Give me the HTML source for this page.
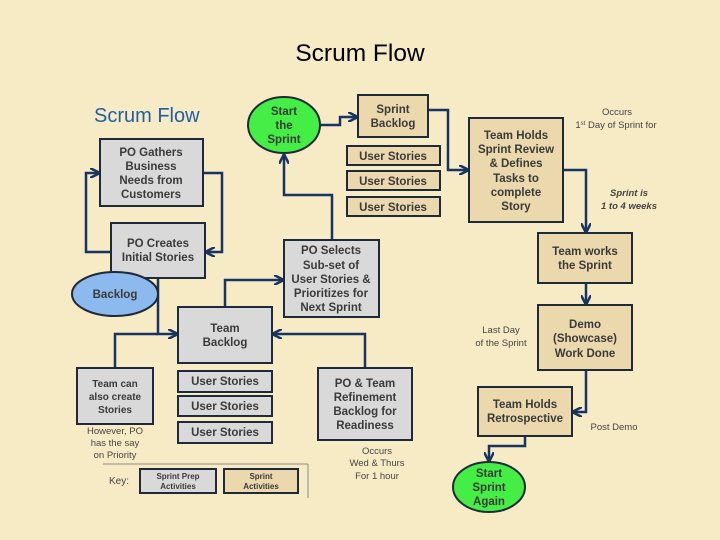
<!DOCTYPE html>
<html><head><meta charset="utf-8"><style>
html,body{margin:0;padding:0;background:#f7ebc6;}
svg{display:block;font-family:"Liberation Sans",Arial,sans-serif;}
.g{fill:#d9d9d9;stroke:#1e2a3a;stroke-width:2}
.t{fill:#ebd8ad;stroke:#1e2a3a;stroke-width:2}
.b{font-weight:bold;fill:#3a3a3a;font-size:11.5px;text-anchor:middle}
.n{fill:#444;font-size:9.5px;text-anchor:middle}
.c{fill:none;stroke:#173463;stroke-width:2.5}
</style></head><body>
<svg width="720" height="540" viewBox="0 0 720 540">
<defs><marker id="a" viewBox="0 0 10 10" refX="9" refY="5" markerWidth="4" markerHeight="4" orient="auto"><path d="M0,0 L10,5 L0,10" fill="none" stroke="#173463" stroke-width="2.5"/></marker></defs>
<rect width="720" height="540" fill="#f7ebc6"/>
<text x="360" y="61" font-size="24.5" text-anchor="middle" fill="#000">Scrum Flow</text>
<text x="94" y="122" font-size="20" fill="#1f5fa5">Scrum Flow</text>

<path class="c" d="M111,252 H86 V173 H99" marker-end="url(#a)"/>
<path class="c" d="M203,173 H222 V252 H206" marker-end="url(#a)"/>
<path class="c" d="M158,278 V334 H177" marker-end="url(#a)"/>
<path class="c" d="M115,368 V334 H158"/>
<path class="c" d="M225,307 V280 H283" marker-end="url(#a)"/>
<path class="c" d="M332,240 V195 H284 V155" marker-end="url(#a)"/>
<path class="c" d="M320,125 H340 V117 H357" marker-end="url(#a)"/>
<path class="c" d="M428,110 H448 V170 H468" marker-end="url(#a)"/>
<path class="c" d="M365,368 V334 H273" marker-end="url(#a)"/>
<path class="c" d="M563,170 H586 V232" marker-end="url(#a)"/>
<path class="c" d="M586,283 V304" marker-end="url(#a)"/>
<path class="c" d="M586,370 V412 H573" marker-end="url(#a)"/>
<path class="c" d="M525,436 V446 H489 V461" marker-end="url(#a)"/>

<rect class="g" x="100" y="139" width="103" height="67"/>
<text class="b"><tspan x="151" y="156">PO Gathers</tspan><tspan x="151" y="170">Business</tspan><tspan x="151" y="184">Needs from</tspan><tspan x="151" y="198">Customers</tspan></text>
<rect class="g" x="111" y="223" width="94" height="55"/>
<text class="b"><tspan x="158" y="247">PO Creates</tspan><tspan x="158" y="261">Initial Stories</tspan></text>
<ellipse cx="115" cy="294" rx="43" ry="22" fill="#8cb9ee" stroke="#1e2a3a" stroke-width="2"/>
<text class="b" x="115" y="298">Backlog</text>

<ellipse cx="284" cy="125" rx="36" ry="28" fill="#44ee44" stroke="#1e2a3a" stroke-width="2"/>
<text class="b"><tspan x="284" y="115">Start</tspan><tspan x="284" y="129">the</tspan><tspan x="284" y="143">Sprint</tspan></text>

<rect class="t" x="358" y="95" width="70" height="42"/>
<text class="b"><tspan x="393" y="113">Sprint</tspan><tspan x="393" y="127">Backlog</tspan></text>
<rect class="t" x="347" y="146" width="93" height="19"/><text class="b" x="393" y="160">User Stories</text>
<rect class="t" x="347" y="171" width="93" height="19"/><text class="b" x="393" y="185">User Stories</text>
<rect class="t" x="347" y="197" width="93" height="19"/><text class="b" x="393" y="211">User Stories</text>

<rect class="g" x="284" y="240" width="95" height="77"/>
<text class="b"><tspan x="331" y="254">PO Selects</tspan><tspan x="331" y="269">Sub-set of</tspan><tspan x="331" y="283">User Stories &amp;</tspan><tspan x="331" y="297">Prioritizes for</tspan><tspan x="331" y="311">Next Sprint</tspan></text>

<rect class="g" x="178" y="307" width="94" height="56"/>
<text class="b"><tspan x="225" y="332">Team</tspan><tspan x="225" y="346">Backlog</tspan></text>
<rect class="g" x="178" y="371" width="94" height="21"/><text class="b" x="225" y="385">User Stories</text>
<rect class="g" x="178" y="396" width="94" height="20"/><text class="b" x="225" y="410">User Stories</text>
<rect class="g" x="178" y="422" width="94" height="21"/><text class="b" x="225" y="436">User Stories</text>

<rect class="g" x="77" y="368" width="76" height="56"/>
<text class="b" style="font-size:10px"><tspan x="115" y="387">Team can</tspan><tspan x="115" y="400">also create</tspan><tspan x="115" y="413">Stories</tspan></text>
<text class="n"><tspan x="115" y="434">However, PO</tspan><tspan x="115" y="446">has the say</tspan><tspan x="115" y="458">on Priority</tspan></text>

<rect class="g" x="318" y="368" width="94" height="72"/>
<text class="b"><tspan x="365" y="387">PO &amp; Team</tspan><tspan x="365" y="401">Refinement</tspan><tspan x="365" y="415">Backlog for</tspan><tspan x="365" y="429">Readiness</tspan></text>
<text class="n"><tspan x="377" y="454">Occurs</tspan><tspan x="377" y="466">Wed &amp; Thurs</tspan><tspan x="377" y="479">For 1 hour</tspan></text>

<line x1="103" y1="464" x2="308" y2="464" stroke="#888" stroke-width="1"/>
<line x1="308" y1="464" x2="308" y2="498" stroke="#888" stroke-width="1"/>
<text class="n" x="119" y="484" style="font-size:10px">Key:</text>
<rect class="g" x="140" y="469" width="76" height="24"/>
<text class="b" style="font-size:8px"><tspan x="178" y="479">Sprint Prep</tspan><tspan x="178" y="489">Activities</tspan></text>
<rect class="t" x="224" y="469" width="74" height="24"/>
<text class="b" style="font-size:8px"><tspan x="261" y="479">Sprint</tspan><tspan x="261" y="489">Activities</tspan></text>

<text class="n"><tspan x="617" y="115">Occurs</tspan><tspan x="616" y="128">1<tspan font-size="6" dy="-3">st</tspan><tspan dy="3"> Day of Sprint for</tspan></tspan></text>
<rect class="t" x="469" y="118" width="94" height="104"/>
<text class="b"><tspan x="516" y="139">Team Holds</tspan><tspan x="516" y="153">Sprint Review</tspan><tspan x="516" y="167">&amp; Defines</tspan><tspan x="516" y="182">Tasks to</tspan><tspan x="516" y="196">complete</tspan><tspan x="516" y="210">Story</tspan></text>
<text class="n" style="font-style:italic;font-weight:bold;font-size:9.5px"><tspan x="629" y="196">Sprint is</tspan><tspan x="629" y="209">1 to 4 weeks</tspan></text>
<rect class="t" x="538" y="233" width="94" height="50"/>
<text class="b"><tspan x="585" y="255">Team works</tspan><tspan x="585" y="269">the Sprint</tspan></text>
<rect class="t" x="538" y="305" width="94" height="65"/>
<text class="b"><tspan x="585" y="328">Demo</tspan><tspan x="585" y="342">(Showcase)</tspan><tspan x="585" y="357">Work Done</tspan></text>
<text class="n"><tspan x="501" y="333">Last Day</tspan><tspan x="501" y="346">of the Sprint</tspan></text>
<rect class="t" x="478" y="387" width="94" height="49"/>
<text class="b"><tspan x="525" y="408">Team Holds</tspan><tspan x="525" y="422">Retrospective</tspan></text>
<text class="n" x="614" y="430">Post Demo</text>
<ellipse cx="489" cy="487" rx="36" ry="25" fill="#44ee44" stroke="#1e2a3a" stroke-width="2"/>
<text class="b"><tspan x="489" y="477">Start</tspan><tspan x="489" y="491">Sprint</tspan><tspan x="489" y="505">Again</tspan></text>
</svg>
</body></html>
